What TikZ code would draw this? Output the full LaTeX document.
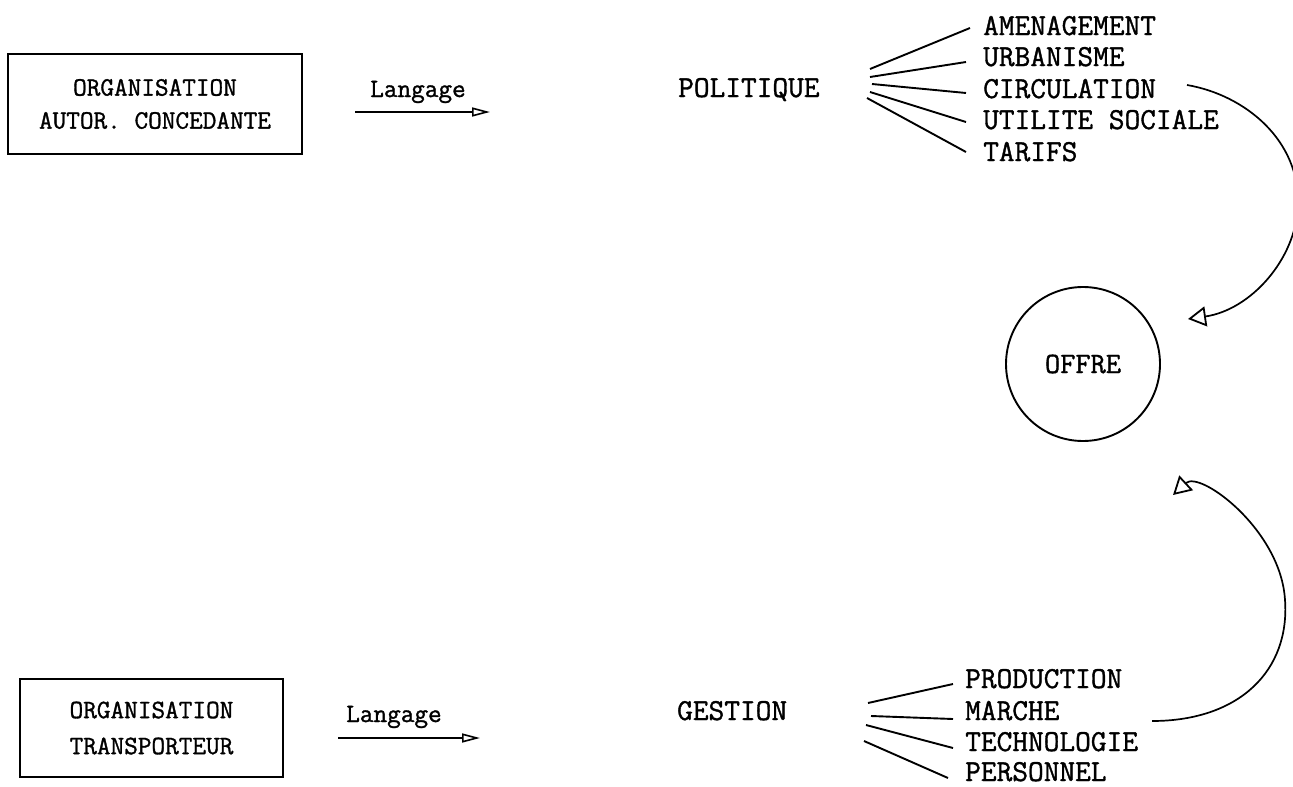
\documentclass[tikz,border=0pt]{standalone}
\usepackage{fontspec}
\newfontfamily\twfont[FakeBold=1.2]{Latin Modern Mono}
\usetikzlibrary{arrows.meta}
\begin{document}
\begin{tikzpicture}[x=1pt,y=-1pt,
  big/.style={font=\twfont\fontsize{30.5}{36}\selectfont, inner sep=0pt},
  mid/.style={font=\twfont\fontsize{26.5}{33}\selectfont, inner sep=0pt},
  lbl/.style={big, anchor=base west},
  orgbox/.style={draw, line width=2.6pt, align=center, mid},
  fan/.style={line width=1.9pt},
  flow/.style={line width=1.7pt, -{Triangle[open,length=18pt,width=20pt,line width=1.8pt]}},
  lang/.style={line width=2pt, -{Triangle[open,length=18pt,width=9pt,line width=1.6pt]}}
]
\useasboundingbox (0,0) rectangle (1293,787);
\fill[white] (0,0) rectangle (1293,787);

% --- top row ---
\node[orgbox, minimum width=294pt, minimum height=100pt] (org1) at (155,104)
  {ORGANISATION\\AUTOR. CONCEDANTE};
\node[mid, anchor=base] (lang1) at (418,97) {Langage};
\coordinate (la1) at (355,112);
\coordinate (la2) at (490,112);
\draw[lang] (la1) -- (la2);
\node[big, anchor=base west] (pol) at (678,97) {POLITIQUE};

\node[lbl] (am) at (983,35) {AMENAGEMENT};
\node[lbl] (ur) at (983,66) {URBANISME};
\node[lbl] (ci) at (983,98) {CIRCULATION};
\node[lbl] (ut) at (983,129) {UTILITE SOCIALE};
\node[lbl] (ta) at (983,161) {TARIFS};

\coordinate (f1) at (870,69);
\coordinate (f2) at (870,77);
\coordinate (f3) at (872,84);
\coordinate (f4) at (870,92);
\coordinate (f5) at (867,98);
\draw[fan] (f1) -- ([shift={(-13pt,7pt)}]am.base west);
\draw[fan] (f2) -- ([shift={(-17pt,4pt)}]ur.base west);
\draw[fan] (f3) -- ([shift={(-17pt,5pt)}]ci.base west);
\draw[fan] (f4) -- ([shift={(-17pt,7pt)}]ut.base west);
\draw[fan] (f5) -- ([shift={(-17pt,9pt)}]ta.base west);

% --- offre ---
\node[draw, circle, line width=1.9pt, minimum size=154pt, inner sep=0pt,
      font=\twfont\fontsize{29.5}{35}\selectfont] (offre) at (1083,364) {OFFRE};

\coordinate (c1) at (1187,85);
\coordinate (t1) at (1188,319);
\draw[flow] (c1) .. controls (1245,95) and (1300,140) .. (1298,205)
  .. controls (1296,260) and (1250,310) .. (t1);

% --- bottom row ---
\node[orgbox, minimum width=263pt, minimum height=98pt] (org2) at (151.5,728)
  {ORGANISATION\\[3pt]TRANSPORTEUR};
\node[mid, anchor=base] (lang2) at (394,722) {Langage};
\coordinate (lb1) at (338,738);
\coordinate (lb2) at (480,738);
\draw[lang] (lb1) -- (lb2);
\node[big, anchor=base west] (ges) at (677,720) {GESTION};

\node[lbl] (pr) at (965,688) {PRODUCTION};
\node[lbl] (ma) at (965,720) {MARCHE};
\node[lbl] (te) at (965,751) {TECHNOLOGIE};
\node[lbl] (pe) at (965,781) {PERSONNEL};

\coordinate (g1) at (868,703);
\coordinate (g2) at (871,716);
\coordinate (g3) at (866,725);
\coordinate (g4) at (864,741);
\draw[fan] (g1) -- ([shift={(-12pt,4pt)}]pr.base west);
\draw[fan] (g2) -- ([shift={(-12pt,1pt)}]ma.base west);
\draw[fan] (g3) -- ([shift={(-12pt,3pt)}]te.base west);
\draw[fan] (g4) -- ([shift={(-17pt,3pt)}]pe.base west);

\coordinate (c2) at (1152,721);
\coordinate (t2) at (1173,495);
\draw[flow] (c2) .. controls (1240,721) and (1290,670) .. (1285,600)
  .. controls (1281,530) and (1200,470) .. (t2);
\end{tikzpicture}
\end{document}
